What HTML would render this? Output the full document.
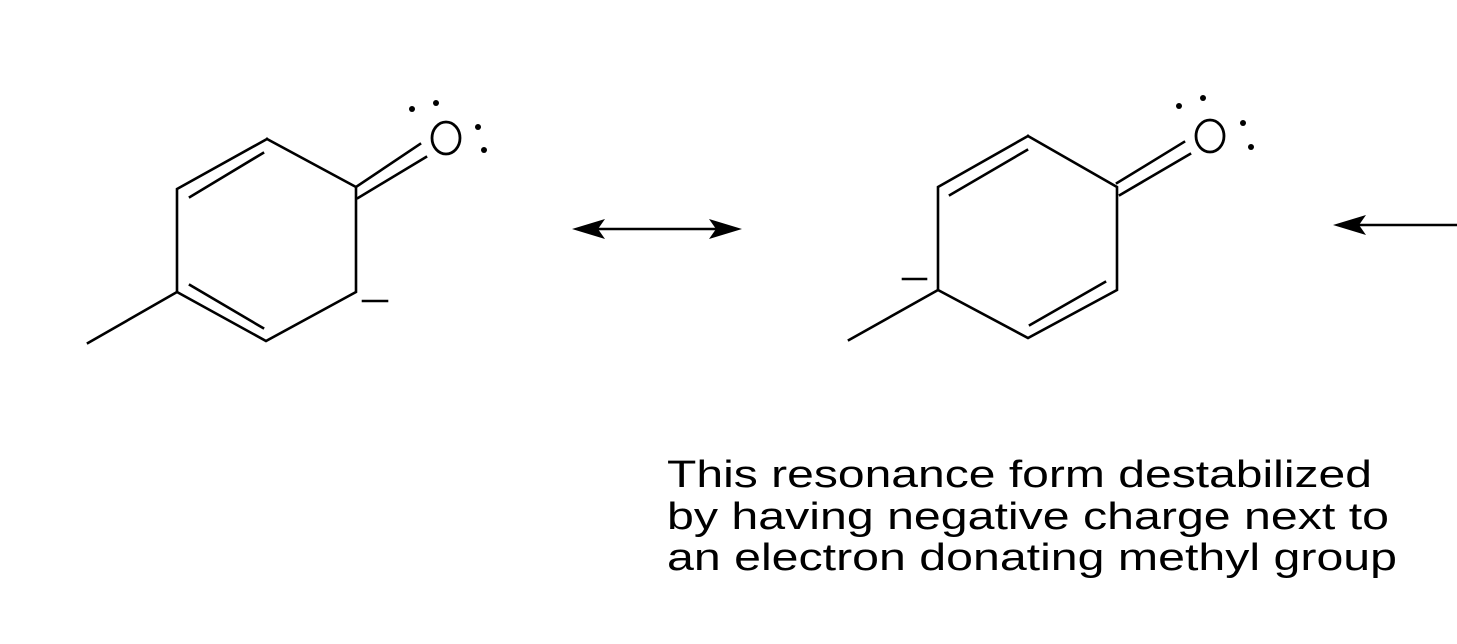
<!DOCTYPE html>
<html><head><meta charset="utf-8"><style>html,body{margin:0;padding:0;background:#fff}svg{display:block}</style></head>
<body>
<svg width="1457" height="644" viewBox="0 0 1457 644" xmlns="http://www.w3.org/2000/svg">
<g stroke="#000" stroke-width="2.6" fill="none" stroke-linecap="square">
<polyline points="267,139 177,189 177,292 266,341 356,292 356,187 267,139"/>
<line x1="177" y1="292" x2="88" y2="343"/>
<line x1="190" y1="197" x2="263" y2="153"/>
<line x1="190" y1="285" x2="263" y2="328"/>
<line x1="356" y1="187" x2="420" y2="144"/>
<line x1="358" y1="198" x2="426" y2="157"/>
<ellipse cx="446" cy="138" rx="14" ry="16" stroke-width="2.8"/>
<line x1="363" y1="301" x2="387" y2="301"/>
<polyline points="1028,136 938,187 938,290 1028,338 1117,290 1117,187 1028,136"/>
<line x1="938" y1="290" x2="849" y2="340"/>
<line x1="950" y1="195" x2="1027" y2="150"/>
<line x1="1030" y1="325" x2="1105" y2="282"/>
<line x1="1117" y1="183" x2="1184" y2="142"/>
<line x1="1120" y1="195" x2="1190" y2="154"/>
<ellipse cx="1210" cy="136" rx="14" ry="16" stroke-width="2.8"/>
<line x1="903" y1="279" x2="926" y2="279"/>
<line x1="590" y1="229" x2="722" y2="229"/>
<line x1="1350" y1="225" x2="1457" y2="225"/>
</g>
<g fill="#000">
<circle cx="412" cy="109" r="3"/><circle cx="436" cy="103" r="3"/>
<circle cx="478" cy="127" r="3"/><circle cx="484" cy="150" r="3"/>
<circle cx="1179" cy="106" r="3"/><circle cx="1203" cy="98" r="3"/>
<circle cx="1243" cy="123" r="3"/><circle cx="1251" cy="147" r="3"/>
<polygon points="572,229 605,219 598,229 605,239"/>
<polygon points="742,229 709,219 716,229 709,239"/>
<polygon points="1333,225 1366,215 1359,225 1366,235"/>
</g>
<g font-family="Liberation Sans, sans-serif" font-size="38" fill="#000">
<text x="667" y="487" textLength="705" lengthAdjust="spacingAndGlyphs">This resonance form destabilized</text>
<text x="667" y="529" textLength="722" lengthAdjust="spacingAndGlyphs">by having negative charge next to</text>
<text x="667" y="570" textLength="730" lengthAdjust="spacingAndGlyphs">an electron donating methyl group</text>
</g>
</svg>
</body></html>
